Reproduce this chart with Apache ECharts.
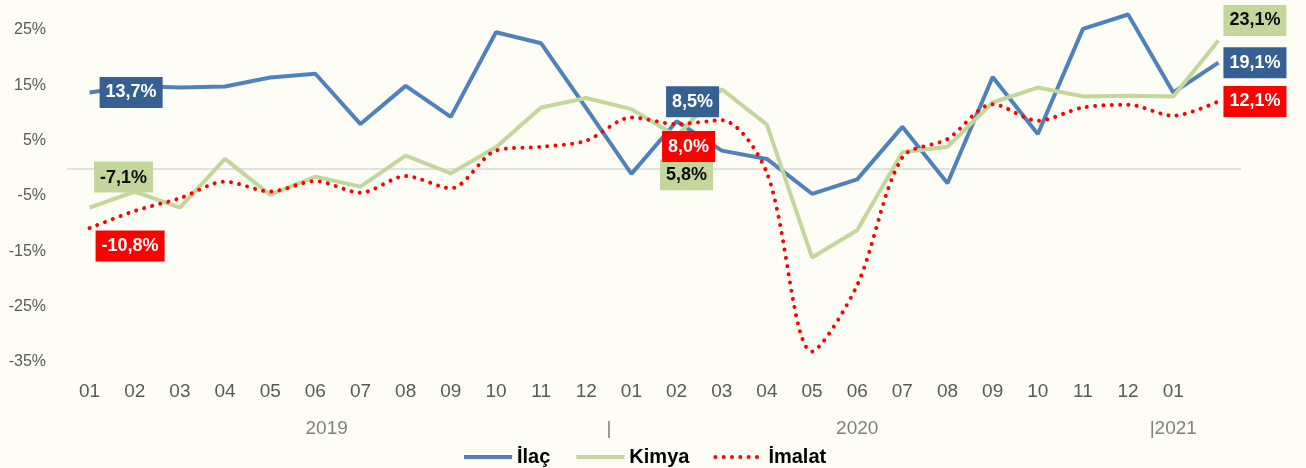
<!DOCTYPE html>
<html>
<head>
<meta charset="utf-8">
<script src="https://cdn.jsdelivr.net/npm/echarts@6/dist/echarts.min.js"></script>
<style>
html, body { margin: 0; padding: 0; background: #FDFDF5; }
#chart { width: 1306px; height: 468px; }
</style>
</head>
<body>
<div id="chart"></div>
<script>
// monthly categories, 2019-01 .. 2021-02 (last one has no label)
var months = ['01','02','03','04','05','06','07','08','09','10','11','12',
  '01','02','03','04','05','06','07','08','09','10','11','12','01','']

// year row under the months (position in category units)
var yearPos = [5.75, 12, 17.5, 24.5]
var yearText = ['2019', '|', '2020', '|2021']

var ilac = [13.7, 14.9, 14.6, 14.8, 16.4, 17.1, 8.0, 14.9, 9.3, 24.6, 22.6, 10.9,
  -1.0, 8.5, 3.2, 1.7, -4.6, -2.0, 7.5, -2.7, 16.5, 6.2, 25.2, 27.8, 13.7, 19.1]
var kimya = [-7.1, -4.2, -7.1, 1.7, -4.8, -1.5, -3.3, 2.3, -0.9, 3.8, 11.0, 12.7,
  10.7, 5.8, 14.3, 7.9, -16.1, -11.2, 2.9, 3.9, 11.9, 14.6, 13.0, 13.1, 13.0, 23.1]
var imalat = [-10.8, -7.7, -5.4, -2.4, -4.2, -2.3, -4.4, -1.4, -3.6, 3.2, 3.9, 5.0,
  9.2, 8.0, 8.7, -0.8, -33.1, -21.1, 2.0, 5.3, 11.6, 8.6, 11.0, 11.5, 9.5, 12.1]

var FONT = "'Liberation Sans', Arial, sans-serif"

function pct(v) {
  return v.toFixed(1).replace('.', ',') + '%'
}

// which points get a boxed value label, and where
var ilacLabels = {
  0: { position: 'right', distance: 10 },
  13: { position: 'top', distance: 4, offset: [16, 0] },
  25: { position: 'right', distance: 5 }
}
var kimyaLabels = {
  0: { position: 'top', distance: 15, offset: [34, 0] },
  13: { position: 'bottom', distance: 23, offset: [10, 0] },
  25: { position: 'right', distance: 5, offset: [0, -20] }
}
var imalatLabels = {
  0: { position: 'right', distance: 6, offset: [0, 18] },
  13: { position: 'bottom', distance: 7, offset: [12, 0] },
  25: { position: 'right', distance: 5 }
}

function withLabels(values, specs, bg, fg) {
  return values.map(function (v, i) {
    var s = specs[i]
    if (!s) return v
    return {
      value: v,
      label: Object.assign({
        show: true,
        formatter: function (p) { return pct(p.value) },
        backgroundColor: bg,
        color: fg,
        fontFamily: FONT,
        fontSize: 18,
        fontWeight: 'bold',
        lineHeight: 20,
        padding: [6, 6, 5, 6]
      }, s)
    }
  })
}

var chart = echarts.init(document.getElementById('chart'))

chart.setOption({
  backgroundColor: '#FDFDF5',
  animation: false,
  grid: { left: 67, right: 65, top: 30, bottom: 106 },
  legend: {
    data: ['İlaç', 'Kimya', 'İmalat'],
    left: 457,
    top: 442,
    itemWidth: 48,
    itemHeight: 14,
    itemGap: 24,
    itemStyle: { opacity: 0 },
    lineStyle: { width: 4 },
    textStyle: { fontFamily: FONT, fontSize: 20, fontWeight: 'bold', color: '#000' }
  },
  xAxis: [{
    type: 'category',
    data: months,
    boundaryGap: true,
    axisLine: { show: false },
    axisTick: { show: false },
    axisLabel: { interval: 0, margin: 20, fontFamily: FONT, fontSize: 19, color: '#595959' }
  }, {
    type: 'value',
    min: 0,
    max: 26,
    position: 'bottom',
    offset: 37,
    axisLine: { show: false },
    axisTick: { show: false },
    splitLine: { show: false },
    axisLabel: {
      customValues: yearPos,
      formatter: function (v) {
        var k = yearPos.indexOf(v)
        return k >= 0 ? yearText[k] : ''
      },
      margin: 20,
      fontFamily: FONT,
      fontSize: 19,
      color: '#7F7F7F'
    }
  }],
  yAxis: {
    type: 'value',
    min: -35,
    max: 25,
    interval: 10,
    axisLine: { show: false },
    axisTick: { show: false },
    splitLine: { show: false },
    axisLabel: {
      margin: 21,
      fontFamily: FONT,
      fontSize: 16,
      color: '#595959',
      formatter: function (v) { return v + '%' }
    }
  },
  series: [{
    name: 'İlaç',
    type: 'line',
    clip: false,
    symbol: 'circle',
    symbolSize: 0,
    itemStyle: { color: '#4F81BD' },
    lineStyle: { color: '#4F81BD', width: 4 },
    data: withLabels(ilac, ilacLabels, '#376092', '#FFFFFF'),
    markLine: {
      silent: true,
      z: 1,
      symbol: ['none', 'none'],
      label: { show: false },
      lineStyle: { color: '#D9D9D9', type: 'solid', width: 1.5 },
      data: [{ yAxis: 0 }]
    }
  }, {
    name: 'Kimya',
    type: 'line',
    clip: false,
    symbol: 'circle',
    symbolSize: 0,
    itemStyle: { color: '#C3D69B' },
    lineStyle: { color: '#C3D69B', width: 4 },
    data: withLabels(kimya, kimyaLabels, '#C3D69B', '#0D0D0D')
  }, {
    name: 'İmalat',
    type: 'line',
    clip: false,
    smooth: 0.3,
    symbol: 'circle',
    symbolSize: 0,
    itemStyle: { color: '#FF0000' },
    lineStyle: { color: '#FF0000', width: 4, type: [0.01, 8.3], cap: 'round' },
    data: withLabels(imalat, imalatLabels, '#FF0000', '#FFFFFF')
  }]
})
</script>
</body>
</html>
